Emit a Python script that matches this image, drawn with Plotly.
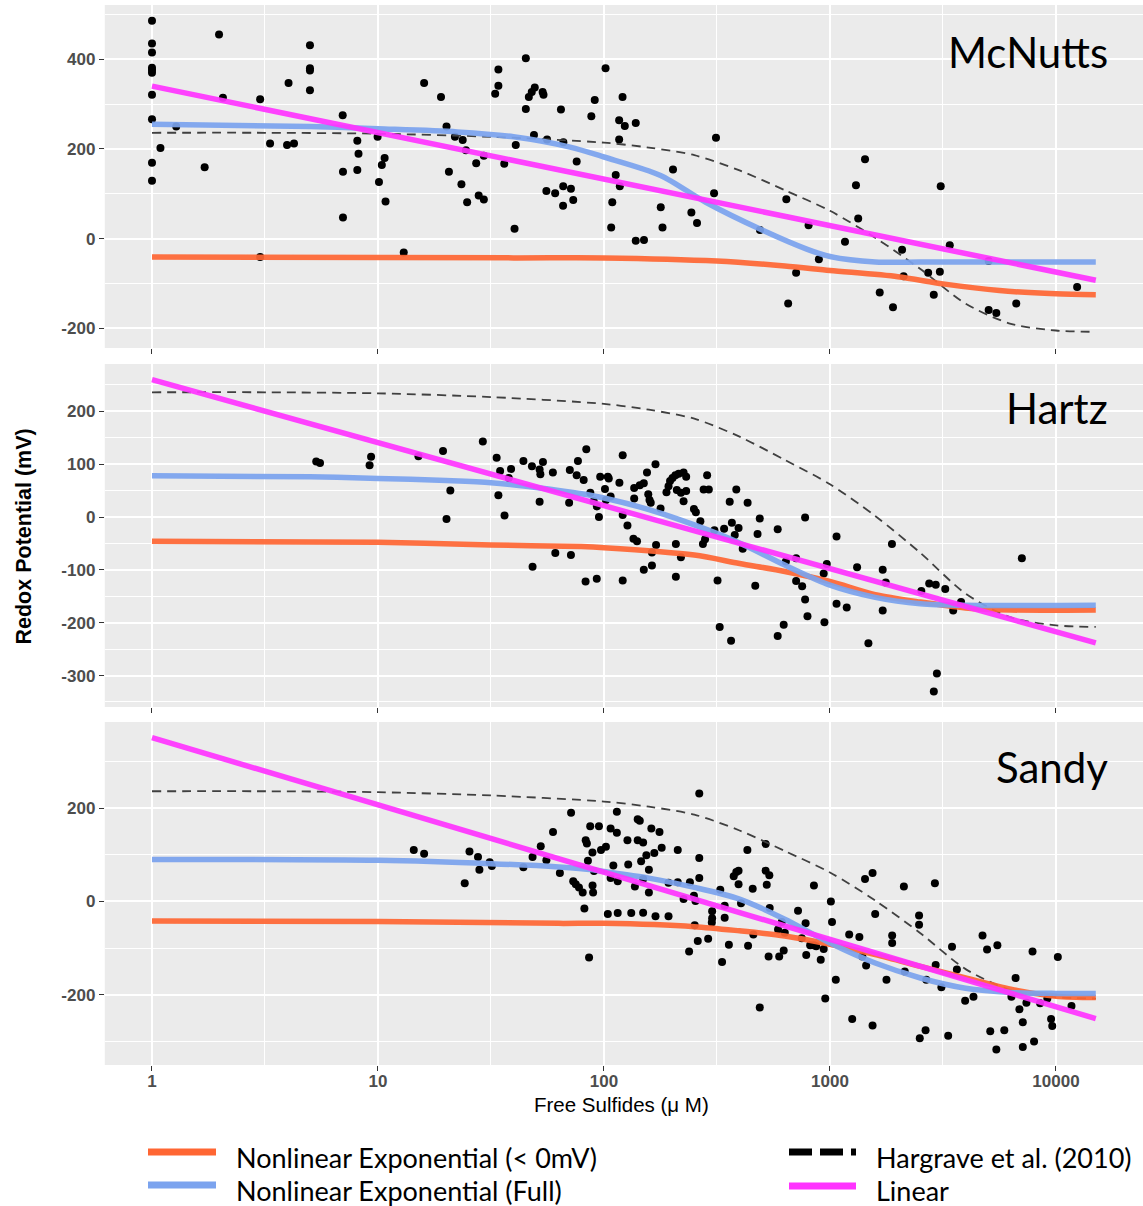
import plotly.graph_objects as go

# ---------------- DATA ----------------
# McNutts observations (Free sulfides uM, redox mV)
mc_x = [1, 1, 1, 1, 1, 1, 1, 1, 1, 1, 1.09, 1.28, 1.71, 1.98, 2.06, 3.01, 3.01, 3.33, 3.96, 4.25,
        4.02, 5.0, 5.0, 5.0, 5.0, 6.98, 7.0, 7.0, 8.1, 8.2, 8.1, 9.96, 10.1, 10.4, 10.7, 10.8, 13.0,
        16.0, 19.0, 20.1, 20.6, 21.9, 23.4, 23.7, 24.5, 24.8, 27.2, 27.9, 29.4, 29.4, 33.0, 34.1,
        34.1, 36.2, 40.2, 40.7, 45.1, 45.1, 46.5, 47.9, 49.4, 49.0, 53.5, 54.0, 55.6, 56.0, 60.8,
        64.5, 66.1, 66.0, 65.9, 71.4, 73.1, 75.7, 87.9, 91.0, 101.6, 112.7, 117.5, 108.8, 107.6,
        120.8, 116.7, 123.6, 116.7, 138.2, 138.2, 150.3, 178.3, 181.5, 202, 243.6, 258, 307, 313,
        490, 641, 653, 708, 804, 893, 1165, 1303, 1333, 1429, 1660, 1900, 2084, 2117, 2719, 2879,
        3063, 3090, 3388, 5036, 5036, 5445, 6670, 12400]
mc_y = [486, 435, 415, 381, 376, 370, 321, 266, 169, 129, 202, 250, 159, 455, 314, 311, -41, 212, 209, 212,
        347, 431, 380, 375, 331, 275, 149, 47, 218, 189, 153, 227, 126, 164, 180, 83, -31,
        347, 316, 250, 149, 227, 121, 220, 197, 81, 168, 96, 87, 185, 323, 341,
        377, 167, 22, 209, 402, 289, 316, 327, 337, 231, 327, 321, 106, 221, 101,
        288, 215, 117, 73, 111, 86, 172, 273, 309, 380, 142, 117, 81, 25,
        316, 264, 251, 221, 258, -5, -3, 70, 25, 154, 58, 35, 101, 225,
        19, 88, -145, -76, 30, -46, -7, 119, 45, 177, -120, -153, -25, -84, -76, -125,
        -74, 117, -15, -159, -50, -166, -145, -108]

# Hartz observations
ha_x = [5.33, 5.54, 9.18, 9.32, 15.1, 19.4, 20.9, 20.1, 29.1, 33.5, 34.7, 34.1, 36.3, 38.8, 37.9, 44.0,
        48.0, 51.9, 52.3, 53.7, 51.9, 48.3, 59.4, 60.9, 70.1, 70.6, 71.4, 75.7, 76.7, 81.3, 83.5, 82.9,
        92.9, 96.2, 87.0, 90.0, 93.0, 95.0,
        101, 104, 105, 102, 107, 117, 121, 121, 121, 127, 135, 140, 136, 136, 144, 150, 150, 155, 157,
        159, 161, 163, 163, 169, 170, 178, 189, 193, 196, 201, 207, 214, 225, 231, 210, 219, 225, 231,
        208, 208, 219, 250, 255, 267, 274, 280, 276, 286, 291, 308, 318, 325, 340, 360, 365, 368, 379,
        385, 394, 411, 432, 467, 478, 489, 587, 587, 624, 638, 708, 708, 753, 776, 776, 795, 938, 945,
        968, 1069, 1069, 1186, 1318, 1479, 1711, 1765, 1711, 1880, 2536, 2748, 2938, 3236, 3802, 3508,
        2972, 2880, 7063]
ha_y = [105, 102, 98, 114, 115, 125, 50, -4, 143, 112, 87, 41, 3, 91, 74, 106,
        96, 90, 81, 104, 29, -94, 84, -68, 27, 89, -72, 79, 106, 70, 128, -122,
        -117, 76, 46, 30, 20, 0,
        53, 76, 73, 32, 39, 65, 117, 4, -120, -16, -41, -46, 55, 35, 60, 64, -100, 84, 43,
        32, 27, -92, -67, 100, -53, 16, 47, 58, 68, 74, 79, 82, 84, 76, 51, 46, 30, 49,
        -51, -113, -76, 15, 9, -8, -51, -42, 52, 79, 52, -25, -120, -208, -22, 29, -234, -11, -34,
        52, -21, -60, 27, -130, -32, -3, -23, -225, -204, -84, -78, -121, -131, -1, -156, -188, -107, -199,
        -89, -37, -164, -171, -95, -239, -100, -124, -177, -51, -140, -126, -128, -136, -161, -177,
        -296, -330, -78]

# Sandy observations
sa_x = [14.4, 16.0, 24.2, 25.4, 27.7, 28.1, 31.2, 31.9, 44.0, 48.3, 52.5, 55.6, 59.5, 63.8, 71.5,
        73.1, 75.0, 77.5, 80.5, 81.9, 83.0, 84.0, 85.9, 86.9, 88.9, 84.9, 90.3, 89.0, 89.5, 95.0,
        97, 102, 104, 107, 110, 107, 114, 114, 115, 115, 127, 128, 132, 137, 141, 144, 141, 146, 149,
        149, 149, 154, 158, 158, 162, 167, 169, 176, 180, 193, 193, 212, 212, 225, 238, 240, 250, 254,
        252, 260, 264, 264, 264, 289, 301, 301, 300, 327, 333, 342, 342, 357, 375, 385, 394, 394, 404,
        431, 434, 455, 458, 489, 519, 519, 525, 539, 541, 535, 596, 624, 589, 612, 631, 722, 750, 780,
        785, 817, 849, 849, 869, 910, 938, 953, 1009, 1021, 1061, 1216, 1254, 1349, 1390, 1445, 1429,
        1543, 1543, 1585, 1778, 1884, 1884, 2123, 2142, 2478, 2478, 2496, 2648, 2667, 2912, 2935, 3111,
        3334, 3467, 3643, 3963, 4314, 4731, 4955, 5504, 5118, 5446, 5905, 6626, 6888, 7131, 7131, 7398,
        7874, 7998, 8505, 9157, 9512, 9624, 10190, 11710, 6350]
sa_y = [110, 102, 39, 107, 95, 68, 84, 76, 73, 95, 118, 88, 149, 61, 190,
        43, 37, 30, 19, -15, 131, 124, -120, 161, 105, 87, 65, 34, 19, 161,
        110, 117, -27, 156, 77, 50, 192, 147, -25, 43, 131, 79, -25, 32, 176, 173, 131, 86, 126,
        48, -24, 99, 68, 19, 156, 104, -32, 149, 115, 40, -32, 110, 41, 5, -107, 41, 12, 1,
        -51, -85, 231, 93, 50, -80, -21, -36, -45, 25, -130, -35, -9, -93, 54, 63, 66, 37, -4,
        110, -95, 27, -71, -227, 123, 66, 36, 56, -14, -118, -118, -105, -60, -44, -67, -20, -79, -47,
        -115, -94, 34, -94, -96, -125, -102, -208, 0, -44, -168, -71, -252, -76, -118, -137, 48,
        61, -266, -27, -168, -73, -89, 32, -150, -30, -50, -293, -276, -168, 39, -136, -184,
        -288, -97, -146, -213, -204, -73, -103, -94, -278, -317, -276, -164, -231, -259, -312, -217,
        -107, -300, -218, -208, -252, -267, -119, -224, -204]

# Fitted curves (x in uM, y in mV)
hg_x = [1, 3.16, 10, 31.6, 100, 158, 251, 398, 631, 1000, 1585, 2512, 3981, 6310, 10000, 15000]
hg_y = [236, 236, 234, 227, 214, 203, 186, 152, 108, 62, 2, -68, -145, -190, -205, -208]

lin_x = [1, 15000]
mc_lin = [340, -93]
ha_lin = [260, -238]
sa_lin = [351, -251]

mc_full_x = [1, 5, 10, 22.4, 39.8, 70.8, 100, 178, 282, 501, 794, 1000, 1585, 3162, 15000]
mc_full_y = [255, 250, 245, 238, 227, 204, 182, 141, 81, 19, -24, -40, -52, -52, -52]
mc_neg_x = [1, 39.8, 100, 316, 631, 1000, 1995, 3162, 5623, 10000, 15000]
mc_neg_y = [-41, -43, -43, -50, -61, -71, -85, -101, -116, -123, -125]

ha_full_x = [1, 5, 10, 20, 31.6, 50, 79.4, 100, 158, 251, 398, 631, 1000, 1585, 2512, 3981, 15000]
ha_full_y = [78, 76, 73, 69, 65, 56, 44, 36, 14, -15, -49, -91, -129, -152, -164, -167, -167]
ha_neg_x = [1, 10, 31.6, 79.4, 100, 251, 398, 631, 1000, 1585, 2512, 3981, 6310, 15000]
ha_neg_y = [-46, -48, -53, -56, -58, -72, -88, -103, -122, -147, -161, -172, -176, -176]

sa_full_x = [1, 10, 31.6, 63.1, 89.1, 100, 158, 251, 398, 631, 1000, 1585, 2512, 3981, 6310, 10000, 15000]
sa_full_y = [90, 88, 81, 74, 68, 64, 50, 30, 5, -38, -89, -132, -164, -186, -195, -197, -197]
sa_neg_x = [1, 10, 63.1, 100, 251, 398, 631, 1000, 1585, 2512, 3981, 6310, 10000, 15000]
sa_neg_y = [-42, -43, -47, -47, -54, -63, -74, -92, -114, -139, -164, -188, -203, -206]

site_names = ["McNutts", "Hartz", "Sandy"]
x_ticks = [1, 10, 100, 1000, 10000]
x_tick_text = ["1", "10", "100", "1000", "10000"]
x_minor = [0.316, 3.162, 31.62, 316.2, 3162, 31623]
y_ticks = [[-200, 0, 200, 400], [-300, -200, -100, 0, 100, 200], [-200, 0, 200]]
y_tick_text = [["-200", "0", "200", "400"], ["-300", "-200", "-100", "0", "100", "200"], ["-200", "0", "200"]]
y_minor = [[-100, 100, 300, 500], [-350, -250, -150, -50, 50, 150, 250], [-300, -100, 100, 300]]
y_ranges = [[-244, 521], [-359.5, 289.5], [-350.4, 384.4]]

legend_labels = ["Nonlinear Exponential (< 0mV)", "Nonlinear Exponential (Full)",
                 "Hargrave et al. (2010)", "Linear"]

# ---------------- STYLE ----------------
C_NEG = "#FF6633"
C_FULL = "#7BA3EE"
C_LIN = "#FF33FF"
C_HG = "#404040"
W, H = 1143, 1206

panels = [
    dict(px=mc_x, py=mc_y, fx=mc_full_x, fy=mc_full_y, nx=mc_neg_x, ny=mc_neg_y, ly=mc_lin),
    dict(px=ha_x, py=ha_y, fx=ha_full_x, fy=ha_full_y, nx=ha_neg_x, ny=ha_neg_y, ly=ha_lin),
    dict(px=sa_x, py=sa_y, fx=sa_full_x, fy=sa_full_y, nx=sa_neg_x, ny=sa_neg_y, ly=sa_lin),
]
# panel pixel extents (top, bottom)
pix = [(5, 348), (364, 707), (722, 1065)]
tick_font = dict(family="Liberation Sans", size=17, color="#4D4D4D", weight="bold")

fig = go.Figure()
layout = dict(width=W, height=H, margin=dict(l=0, r=0, t=0, b=0),
              paper_bgcolor="white", plot_bgcolor="#EBEBEB", showlegend=False)

for i, p in enumerate(panels):
    xa = "x" if i == 0 else f"x{i+1}"
    ya = "y" if i == 0 else f"y{i+1}"
    fig.add_trace(go.Scatter(x=p["px"], y=p["py"], mode="markers", xaxis=xa, yaxis=ya,
                             marker=dict(color="black", size=8), hoverinfo="skip"))
    fig.add_trace(go.Scatter(x=hg_x, y=hg_y, mode="lines", xaxis=xa, yaxis=ya,
                             line=dict(color=C_HG, width=1.8, dash="9px,6px", shape="spline", smoothing=0.8)))
    fig.add_trace(go.Scatter(x=p["nx"], y=p["ny"], mode="lines", xaxis=xa, yaxis=ya, opacity=0.92,
                             line=dict(color=C_NEG, width=5.5, shape="spline", smoothing=0.8)))
    fig.add_trace(go.Scatter(x=p["fx"], y=p["fy"], mode="lines", xaxis=xa, yaxis=ya, opacity=0.92,
                             line=dict(color=C_FULL, width=5.5, shape="spline", smoothing=0.8)))
    fig.add_trace(go.Scatter(x=lin_x, y=p["ly"], mode="lines", xaxis=xa, yaxis=ya, opacity=0.92,
                             line=dict(color=C_LIN, width=5.5)))

    top, bot = pix[i]
    key_x = "xaxis" if i == 0 else f"xaxis{i+1}"
    key_y = "yaxis" if i == 0 else f"yaxis{i+1}"
    layout[key_x] = dict(type="log", range=[-0.2088, 4.385], domain=[104.8 / W, 1.0],
                         anchor=ya, tickvals=x_ticks, ticktext=x_tick_text,
                         showticklabels=(i == 2), ticks="outside", ticklen=5, tickwidth=1.2,
                         tickcolor="#333333", showgrid=True, gridcolor="white", gridwidth=1.6,
                         zeroline=False, showline=False, ticklabelstandoff=-4,
                         tickfont=tick_font,
                         minor=dict(tickvals=x_minor, showgrid=True, gridcolor="white", gridwidth=0.8, ticks=""))
    layout[key_y] = dict(range=y_ranges[i], domain=[1 - bot / H, 1 - top / H], anchor=xa,
                         tickvals=y_ticks[i], ticktext=y_tick_text[i], ticks="outside", ticklen=5,
                         tickwidth=1.2, tickcolor="#333333", showgrid=True, gridcolor="white", gridwidth=1.6,
                         zeroline=False, showline=False,
                         tickfont=tick_font,
                         minor=dict(tickvals=y_minor[i], showgrid=True, gridcolor="white", gridwidth=0.8, ticks=""))

annotations = []
label_y = [52, 408, 767]
for name, yy in zip(site_names, label_y):
    annotations.append(dict(text=name, x=1110 / W, y=1 - yy / H, xref="paper", yref="paper",
                            xanchor="right", yanchor="middle", showarrow=False,
                            font=dict(family="Lato", size=42, color="black")))
annotations.append(dict(text="Redox Potential (mV)", x=23.5 / W, y=1 - 537 / H, xref="paper", yref="paper",
                        textangle=-90, showarrow=False, xanchor="center", yanchor="middle",
                        font=dict(family="Liberation Sans", size=21.5, color="black", weight="bold")))
annotations.append(dict(text="Free Sulfides (\u03bc M)", x=622 / W, y=1 - 1104 / H, xref="paper", yref="paper",
                        showarrow=False, xanchor="center", yanchor="middle",
                        font=dict(family="Liberation Sans", size=20.5, color="black")))

# legend (drawn manually)
leg_items = [
    (legend_labels[0], C_NEG, "solid", 148, 216, 1152, 234, 1157),
    (legend_labels[1], C_FULL, "solid", 148, 216, 1185, 234, 1190),
    (legend_labels[2], "black", "23px,8px", 789, 856, 1152, 874, 1157),
    (legend_labels[3], C_LIN, "solid", 789, 856, 1186, 874, 1190),
]
shapes = []
for text, col, dash, x0, x1, ly, tx, ty in leg_items:
    shapes.append(dict(type="line", xref="paper", yref="paper", x0=x0 / W, x1=x1 / W,
                       y0=1 - ly / H, y1=1 - ly / H, line=dict(color=col, width=7, dash=dash)))
    annotations.append(dict(text=text, x=tx / W, y=1 - ty / H, xref="paper", yref="paper",
                            xanchor="left", yanchor="middle", showarrow=False,
                            font=dict(family="Lato", size=27, color="black")))

layout["annotations"] = annotations
layout["shapes"] = shapes
fig.update_layout(**layout)
fig.write_html("out.html")
